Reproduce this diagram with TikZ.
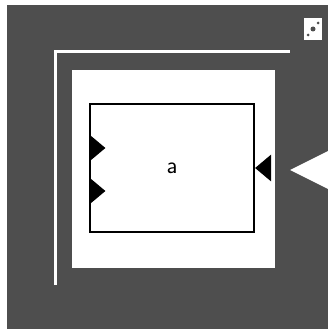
\documentclass[tikz,border=0pt]{standalone}
\usepackage{tikz}
\usetikzlibrary{positioning,shapes.geometric}
\definecolor{framegray}{RGB}{78,78,78}
\tikzset{
  panel/.style={fill=white,draw=none,inner sep=0pt},
  blk/.style={draw=black,line width=1.6pt,fill=white,inner sep=0pt,font=\sffamily\fontsize{24}{28}\selectfont},
  port/.style={isosceles triangle,isosceles triangle apex angle=80,fill=black,draw=none,
    inner sep=0pt,minimum height=16pt,minimum width=15pt},
  rim/.style={white,line width=3pt},
}
\begin{document}
\begin{tikzpicture}[x=1pt,y=-1pt]
  \useasboundingbox (0,0) rectangle (328,331);
  \fill[white] (0,0) rectangle (328,331);
  \fill[framegray] (7,5) rectangle (328,329);
  % window frame
  \coordinate (c1) at (55,285);
  \coordinate (c2) at (55,52);
  \coordinate (c3) at (290,52);
  \draw[rim] (c1) -- (c2) -- (c3);
  \node[panel,minimum width=203pt,minimum height=198pt] (pn) at (173.5,169) {};
  \node[blk,minimum width=164pt,minimum height=128pt] (a) at (172,168) {a};
  % ports
  \node[port,anchor=west] (p1) at ([yshift=-23pt]a.west) {};
  \node[port,anchor=west] (p2) at ([yshift=20pt]a.west) {};
  \node[port,anchor=west,shape border rotate=180] (p3) at ([yshift=0pt]a.east) {};
  % incoming arrow
  \coordinate (t1) at (328,151);
  \coordinate (t2) at (328,189);
  \fill[white] (t1) -- (290,170) -- (t2) -- cycle;
  % corner icon
  \node[panel,minimum width=18pt,minimum height=22pt] (ic) at (313,29) {};
  \fill[framegray] (ic.center) circle (2.5pt);
  \fill[framegray] ([shift={(-5pt,-6pt)}]ic.center) circle (1.5pt);
  \fill[framegray] ([shift={(5pt,6pt)}]ic.center) circle (1.5pt);
\end{tikzpicture}
\end{document}
